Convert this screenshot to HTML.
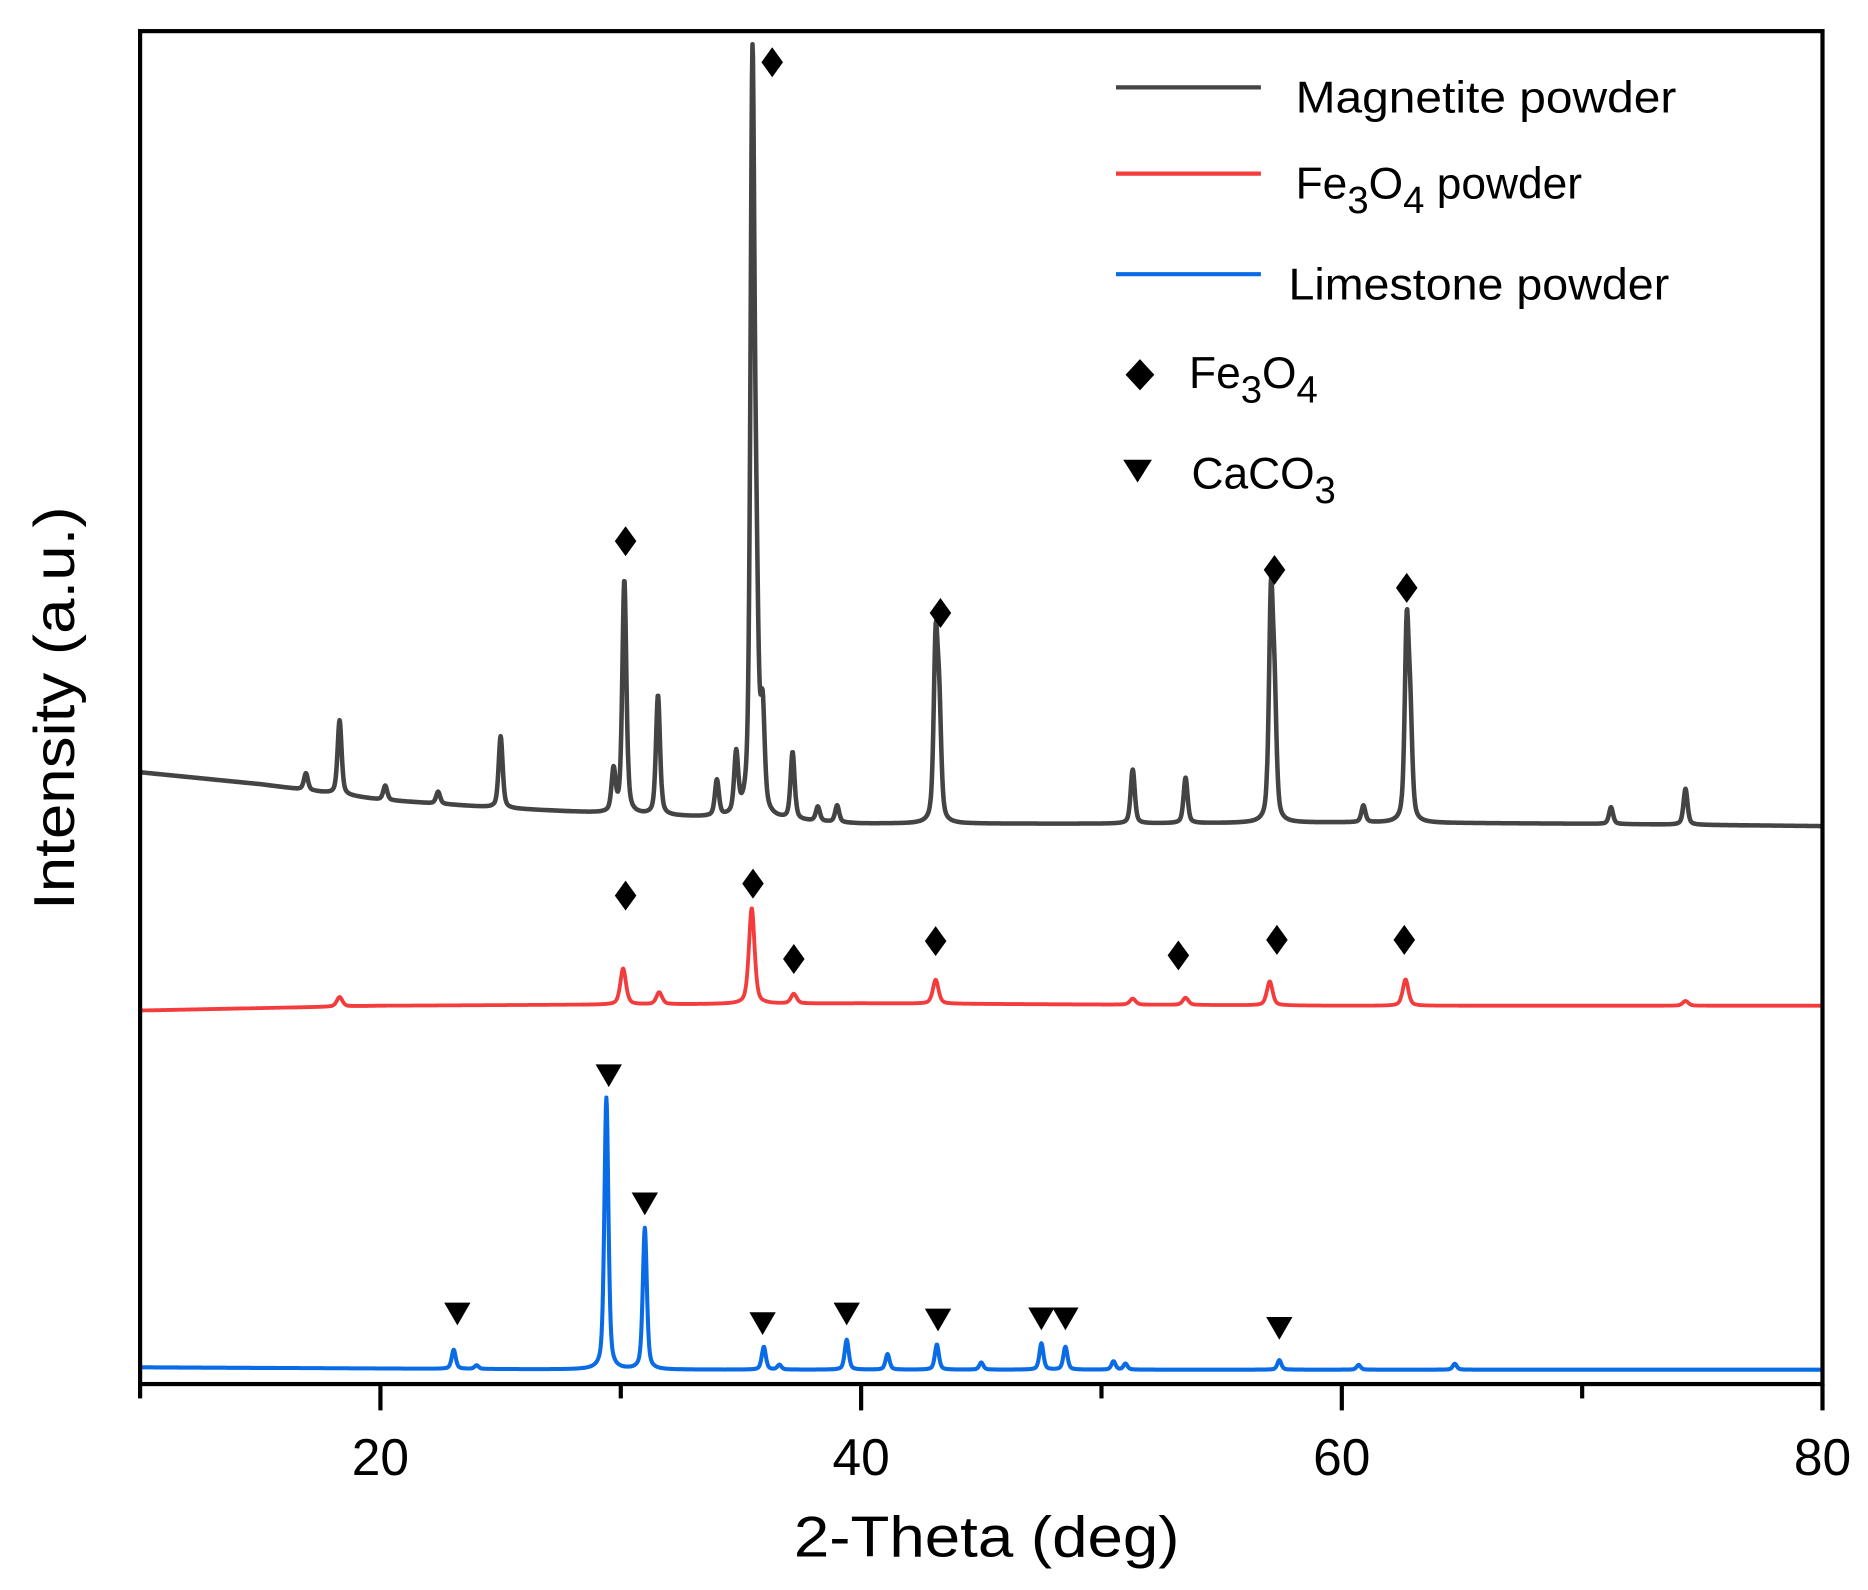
<!DOCTYPE html>
<html><head><meta charset="utf-8"><style>
html,body{margin:0;padding:0;background:#fff;}
svg{display:block;}
text{font-family:"Liberation Sans","DejaVu Sans",sans-serif;fill:#000;}
</style></head><body>
<svg id="chart" width="1868" height="1590" viewBox="0 0 1560 1328" preserveAspectRatio="none" xmlns="http://www.w3.org/2000/svg">
<g id="plot"></g>
<rect x="117" y="26" width="1405" height="1130" fill="none" stroke="#000" stroke-width="3.5"/>
<g id="xticks"></g>
<text x="663" y="1300" font-size="48" textLength="322" lengthAdjust="spacingAndGlyphs">2-Theta (deg)</text>
<text transform="translate(62,760) rotate(-90)" font-size="48" textLength="337" lengthAdjust="spacingAndGlyphs">Intensity (a.u.)</text>
<g>
<line x1="932" y1="73" x2="1053" y2="73" stroke="#444" stroke-width="3.5"/>
<text x="1082" y="94" font-size="37" textLength="318" lengthAdjust="spacingAndGlyphs">Magnetite powder</text>
<line x1="932" y1="145" x2="1053" y2="145" stroke="#f43c3c" stroke-width="3.5"/>
<text x="1082" y="166" font-size="37">Fe<tspan font-size="32" dy="12">3</tspan><tspan dy="-12">O</tspan><tspan font-size="32" dy="12">4</tspan><tspan dy="-12"> powder</tspan></text>
<line x1="932" y1="229" x2="1053" y2="229" stroke="#0a6be6" stroke-width="3.5"/>
<text x="1076" y="250" font-size="37" textLength="318" lengthAdjust="spacingAndGlyphs">Limestone powder</text>
<polygon points="952,300 964,313 952,326 940,313" fill="#000"/>
<text x="993" y="324" font-size="37">Fe<tspan font-size="32" dy="12">3</tspan><tspan dy="-12">O</tspan><tspan font-size="32" dy="12">4</tspan></text>
<polygon points="938,384 962,384 950,403" fill="#000"/>
<text x="995" y="408" font-size="37">CaCO<tspan font-size="32" dy="12">3</tspan></text>
</g>
</svg>
<script>
// ---- data (2-theta in deg, intensity in a.u.) ----
const magBgX = [10, 15, 20, 25, 30, 35, 40, 50, 60, 70, 80];
const magBgY = [515, 505, 492, 485, 480, 476, 472, 472, 473, 472, 470];
const magPeakPos = [16.9, 18.3, 20.2, 22.4, 25.0, 29.7, 30.15, 31.55, 34.0, 34.8, 35.48, 35.65, 35.9, 37.15, 38.2, 39.0, 43.1, 43.25, 51.3, 53.5, 57.05, 57.2, 60.9, 62.7, 62.85, 71.2, 74.3];
const magPeakH = [14, 62, 12, 10, 60, 35, 195, 100, 30, 50, 615, 150, 80, 56, 12, 14, 145, 85, 45, 38, 180, 90, 14, 158, 75, 14, 30];
const feBgX = [10, 20, 40, 60, 80];
const feBgY = [316, 320, 322, 320, 320];
const fePeakPos = [18.3, 30.1, 31.6, 35.45, 37.2, 43.1, 51.3, 53.5, 57.0, 62.65, 74.3];
const fePeakH = [8, 30, 10, 80, 8, 20, 5, 6, 20, 22, 4];
const limeBgX = [10, 30, 50, 80];
const limeBgY = [18, 16, 16, 16];
const limePeakPos = [23.05, 24.0, 29.4, 31.0, 35.95, 36.6, 39.4, 41.1, 43.15, 45.0, 47.5, 48.5, 50.5, 51.0, 57.4, 60.7, 64.7];
const limePeakH = [16, 3, 227, 118, 19, 4, 25, 13, 21, 6, 22, 19, 7, 5, 8, 4, 5];
const diamondX = [36.3, 30.2, 43.3, 57.2, 62.7, 30.2, 35.5, 37.2, 43.1, 53.2, 57.3, 62.6];
const diamondY = [1108, 708, 648, 684, 669, 412, 422, 359, 374, 362, 375, 375];
const triangleX = [23.2, 29.5, 31.0, 35.9, 39.4, 43.2, 47.5, 48.5, 57.4];
const triangleY = [63, 262, 155, 55, 63, 58, 59, 59, 51];
const xTicks = [10, 20, 30, 40, 50, 60, 70, 80];
const xTickLabels = ["", "20", "", "40", "", "60", "", "80"];

// ---- scales ----
const X0 = 117, X1 = 1522, AXY = 1156;
const xs = v => X0 + (v - 10) / 70 * (X1 - X0);
const ys = v => 1160 - v;
const NS = "http://www.w3.org/2000/svg";
const plot = document.getElementById("plot");

function interp(xa, ya, x) {
  if (x <= xa[0]) return ya[0];
  for (let i = 1; i < xa.length; i++) if (x <= xa[i]) {
    const t = (x - xa[i-1]) / (xa[i] - xa[i-1]);
    return ya[i-1] + t * (ya[i] - ya[i-1]);
  }
  return ya[ya.length - 1];
}
function pattern(bx, by, pp, ph, w) {
  const pts = [];
  for (let x = 10; x <= 80.0001; x += 0.02) {
    let y = interp(bx, by, x);
    for (let i = 0; i < pp.length; i++) {
      const d = (x - pp[i]) / w;
      y += ph[i] * (0.5 / (1 + d * d) + 0.5 * Math.exp(-0.693 * d * d));
    }
    pts.push(xs(x).toFixed(1) + "," + ys(y).toFixed(1));
  }
  return pts.join(" ");
}
function addLine(name, pts, color, sw) {
  const p = document.createElementNS(NS, "polyline");
  
  
  p.setAttribute("points", pts);
  p.setAttribute("fill", "none");
  p.setAttribute("stroke", color);
  p.setAttribute("stroke-width", sw);
  p.setAttribute("stroke-linejoin", "round");
  plot.appendChild(p);
}
addLine("series-magnetite", pattern(magBgX, magBgY, magPeakPos, magPeakH, 0.1), "#444", 3.8);
addLine("series-fe3o4", pattern(feBgX, feBgY, fePeakPos, fePeakH, 0.14), "#f43c3c", 3.2);
addLine("series-limestone", pattern(limeBgX, limeBgY, limePeakPos, limePeakH, 0.1), "#0a6be6", 3.4);

for (let i = 0; i < diamondX.length; i++) {
  const cx = xs(diamondX[i]), cy = ys(diamondY[i]);
  const d = document.createElementNS(NS, "polygon");
  
  
  d.setAttribute("points", `${cx},${cy-12.5} ${cx+9},${cy} ${cx},${cy+12.5} ${cx-9},${cy}`);
  d.setAttribute("fill", "#000");
  plot.appendChild(d);
}
for (let i = 0; i < triangleX.length; i++) {
  const cx = xs(triangleX[i]), cy = ys(triangleY[i]);
  const t = document.createElementNS(NS, "polygon");
  
  
  t.setAttribute("points", `${cx-11},${cy-9} ${cx+11},${cy-9} ${cx},${cy+10}`);
  t.setAttribute("fill", "#000");
  plot.appendChild(t);
}
const xt = document.getElementById("xticks");
for (let i = 0; i < xTicks.length; i++) {
  const x = xs(xTicks[i]);
  const major = xTickLabels[i] !== "";
  const l = document.createElementNS(NS, "line");
  
  
  l.setAttribute("x1", x); l.setAttribute("x2", x);
  l.setAttribute("y1", AXY); l.setAttribute("y2", major ? AXY + 22 : AXY + 12);
  l.setAttribute("stroke", "#000"); l.setAttribute("stroke-width", 3.5);
  xt.appendChild(l);
  if (major) {
    const tx = document.createElementNS(NS, "text");
    
    
    tx.setAttribute("x", x); tx.setAttribute("y", 1232);
    tx.setAttribute("font-size", "43");
    tx.setAttribute("text-anchor", "middle");
    tx.textContent = xTickLabels[i];
    xt.appendChild(tx);
  }
}
</script>
</body></html>
